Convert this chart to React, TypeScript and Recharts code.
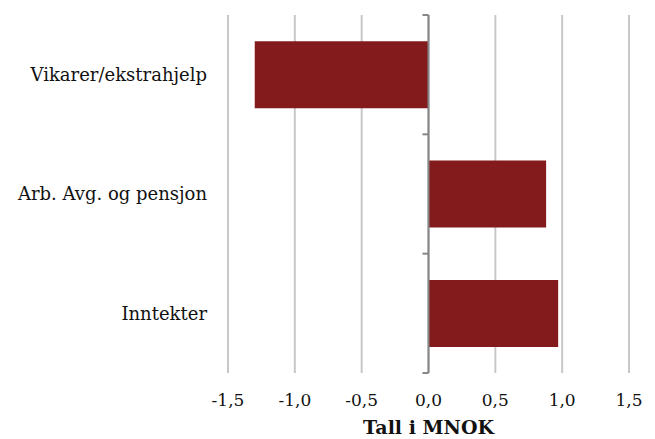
import { BarChart, Bar, XAxis, YAxis, CartesianGrid, ReferenceLine } from "recharts";

const categories = ["Vikarer/ekstrahjelp", "Arb. Avg. og pensjon", "Inntekter"];
const values = [-1.3, 0.88, 0.97];
const xTicks = [-1.5, -1.0, -0.5, 0.0, 0.5, 1.0, 1.5];

const data = categories.map((name, i) => ({ name, value: values[i] }));

const FONT = "'DejaVu Serif', serif";

// zero line with small tick marks at the category band boundaries
function ZeroAxis(props: any) {
  const { x1, y1, y2 } = props;
  const step = (y2 - y1) / categories.length;
  const marks = Array.from({ length: categories.length + 1 }, (_, i) => y1 + i * step);
  return (
    <g>
      <line x1={x1} y1={y1} x2={x1} y2={y2} stroke="#868686" strokeWidth={2} />
      {marks.map((y) => (
        <line key={y} x1={x1 - 6} y1={y} x2={x1} y2={y} stroke="#868686" strokeWidth={2} />
      ))}
    </g>
  );
}

export default function App() {
  return (
    <div style={{ position: "absolute", left: 0, top: 0, background: "#fff" }}>
      <BarChart
        width={655}
        height={439}
        data={data}
        layout="vertical"
        margin={{ top: 15, right: 26, bottom: 0, left: 0 }}
        barCategoryGap="22%"
      >
        <CartesianGrid horizontal={false} stroke="#c8c8c8" strokeWidth={2} />
        <XAxis
          type="number"
          domain={[-1.5, 1.5]}
          ticks={xTicks}
          axisLine={false}
          tickLine={false}
          tickMargin={15}
          height={66}
          interval={0}
          tickFormatter={(v: number) => v.toFixed(1).replace(".", ",")}
          tick={{ fontSize: 17, fill: "#111", fontFamily: FONT }}
          label={{
            value: "Tall i MNOK",
            position: "insideBottom",
            offset: 5,
            style: { fontSize: 19, fontWeight: "bold", fill: "#111", fontFamily: FONT },
          }}
        />
        <YAxis
          type="category"
          dataKey="name"
          width={228}
          axisLine={false}
          tickLine={false}
          tickMargin={15}
          tick={{ fontSize: 18, fill: "#111", fontFamily: FONT }}
        />
        <Bar dataKey="value" fill="#831b1c" isAnimationActive={false} />
        <ReferenceLine x={0} shape={<ZeroAxis />} />
      </BarChart>
    </div>
  );
}
